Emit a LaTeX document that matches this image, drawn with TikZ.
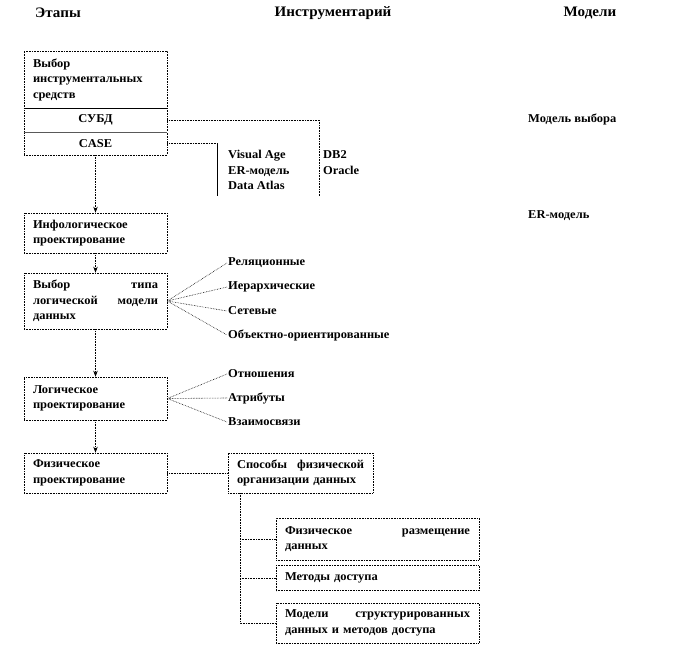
\documentclass[tikz,border=0pt]{standalone}
\usepackage{fontspec}
\setmainfont{Liberation Serif}[FakeStretch=1.04]
\usetikzlibrary{arrows.meta}

\begin{document}
\begin{tikzpicture}[x=1pt,y=-1pt,font=\bfseries\fontsize{12}{15.5}\selectfont]

        \useasboundingbox (0,0) rectangle (696,663);

        \begin{scope}[every node/.style={font=\bfseries\fontsize{14.5}{16}\selectfont}]
          \node (etapy) at (58,13)  {Этапы};
          \node (instr) at (333,13) {Инструментарий};
          \node (model) at (590,13) {Модели};
        \end{scope}

        \begin{scope}[every node/.style={draw,densely dotted,line width=.6pt,inner xsep=9pt,inner ysep=0pt,text width=125pt,align=left}]
          \node[minimum height=57pt] (vybor) at (95.5,79.5)  {Выбор\\инструментальных\\средств};
          \node[minimum height=24pt,align=center] (subd) at (95.5,120) {СУБД};
          \node[minimum height=23pt,align=center] (case) at (95.5,143.5) {CASE};
          \node[minimum height=40pt] (info)  at (95.5,233)   {Инфологическое\\проектирование};
          \node[minimum height=56pt] (tip)   at (95.5,301)   {Выбор\hfill типа\\логической\hfill модели\\данных};
          \node[minimum height=43pt] (logic) at (95.5,398.5) {Логическое\\проектирование};
          \node[minimum height=40pt] (phys)  at (95.5,473)   {Физическое\\проектирование};
          \node[minimum height=40pt,text width=127pt] (sposob) at (300.5,473) {Способы\hfill физической\\организации данных};
        \end{scope}

        \begin{scope}[every node/.style={draw,densely dotted,line width=.6pt,inner xsep=9pt,inner ysep=0pt,text width=185pt,align=left}]
          \node[minimum height=42pt] (razm)   at (377.5,539) {Физическое\hfill размещение\\данных};
          \node[minimum height=25pt] (metod)  at (377.5,578) {Методы доступа};
          \node[minimum height=40pt] (modstr) at (377.5,623) {Модели\hfill структурированных\\данных и методов доступа};
        \end{scope}

        \draw[line width=1pt] (vybor.south west) -- (vybor.south east);
        \draw[gray!70!black,line width=.8pt] (subd.south west) -- (subd.south east);

        \begin{scope}[every node/.style={anchor=west,inner sep=1pt}]
          \node (rel)  at (227,263) {Реляционные};
          \node (ier)  at (227,287) {Иерархические};
          \node (set)  at (227,311) {Сетевые};
          \node (obj)  at (227,335) {Объектно-ориентированные};
          \node (otn)  at (227,374) {Отношения};
          \node (atr)  at (227,398) {Атрибуты};
          \node (vzm)  at (227,422) {Взаимосвязи};
          \node[align=left] (casetools) at (227,170) {Visual Age\\ER-модель\\Data Atlas};
          \node[align=left] (dbms) at (322,162.5) {DB2\\Oracle};
          \node (mvyb) at (527,119) {Модель выбора};
          \node (merm) at (527,216) {ER-модель};
        \end{scope}

        \coordinate (casetop) at (217,143.5);
        \coordinate (casebot) at (217,196);
        \coordinate (dbbot)   at (319,196);
        \coordinate (trunk)   at (240,493);

        \begin{scope}[every edge/.style={draw,densely dotted,line width=.6pt,-{Stealth[length=6pt,width=4.5pt]}}]
          \path (case)  edge (info);
          \path (info)  edge (tip);
          \path (tip)   edge (logic);
          \path (logic) edge (phys);
        \end{scope}

        \begin{scope}[every edge/.style={draw,densely dotted,line width=.6pt}]
          \path (tip.east) edge (rel.west) edge (ier.west) edge (set.west) edge (obj.west);
          \path (logic.east) edge (otn.west) edge (atr.west) edge (vzm.west);
          \path (phys) edge (sposob);
          \path (case.east) edge (casetop);
          \path (subd.east) edge[to path={-| (\tikztotarget)}] (dbbot);
          \path (trunk) edge[to path={|- (\tikztotarget)}] (modstr.west);
          \path (trunk |- razm.west) edge (razm.west);
          \path (trunk |- metod.west) edge (metod.west);
        \end{scope}

        \draw (casetop) -- (casebot);

      \end{tikzpicture}
\end{document}
